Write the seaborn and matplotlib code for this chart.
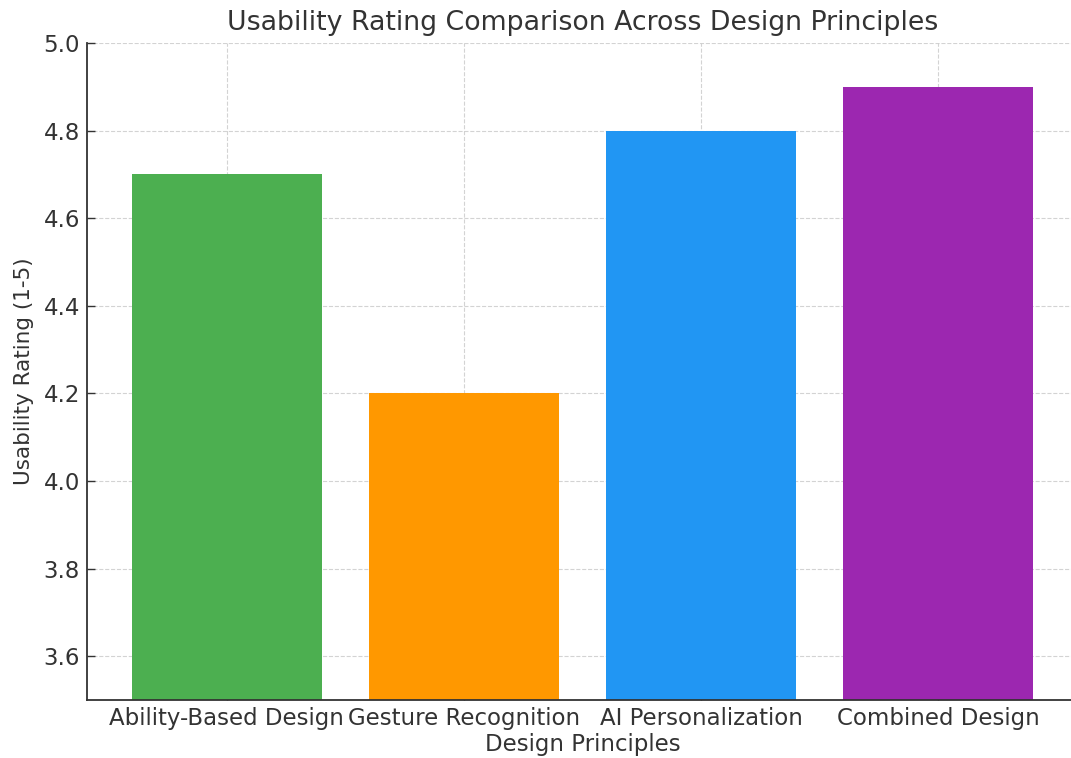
import matplotlib
matplotlib.use("Agg")
import matplotlib.pyplot as plt
import seaborn as sns
import pandas as pd

categories = ["Ability-Based Design", "Gesture Recognition", "AI Personalization", "Combined Design"]
ratings = [4.7, 4.2, 4.8, 4.9]
colors = ["#4CAF50", "#FF9800", "#2196F3", "#9C27B0"]
yticks = [3.6, 3.8, 4.0, 4.2, 4.4, 4.6, 4.8, 5.0]

sns.set_theme(style="white")
plt.rcParams['font.family'] = ['DejaVu Sans']
text_color = "#333333"

df = pd.DataFrame({"Design Principles": categories, "Usability Rating": ratings})

fig = plt.figure(figsize=(10.71, 7.58), dpi=100)
ax = fig.add_axes([0.0812, 0.0765, 0.9253, 0.8668])
sns.barplot(data=df, x="Design Principles", y="Usability Rating", hue="Design Principles",
            palette=colors, width=0.8, saturation=1, legend=False, ax=ax)
ax.set_xlim(-0.59, 3.59)
ax.set_ylim(3.5, 5.0)
ax.set_yticks(yticks)
ax.set_yticklabels([f"{v:.1f}" for v in yticks])
for b in ax.patches:
    b.set_zorder(1)
    b.set_linewidth(0)
ax.grid(True, linestyle="--", color="#cccccc", linewidth=0.8, alpha=0.85)
for l in ax.get_xgridlines() + ax.get_ygridlines():
    l.set_zorder(3)
for s in ["top", "right"]:
    ax.spines[s].set_visible(False)
for s in ["left", "bottom"]:
    ax.spines[s].set_color("#333333")
    ax.spines[s].set_linewidth(1.3)
    ax.spines[s].set_zorder(4)
ax.tick_params(axis="both", direction="in", length=6, width=1, color="#333333",
               labelsize=16.5, labelcolor=text_color, left=True, bottom=True, pad=5)
ax.set_title("Usability Rating Comparison Across Design Principles", fontsize=19.3,
             color=text_color, pad=9)
ax.set_xlabel("Design Principles", fontsize=16.5, color=text_color, labelpad=2)
ax.set_ylabel("Usability Rating (1-5)", fontsize=15.5, color=text_color, labelpad=7)

fig.savefig("out.png", dpi=100)
